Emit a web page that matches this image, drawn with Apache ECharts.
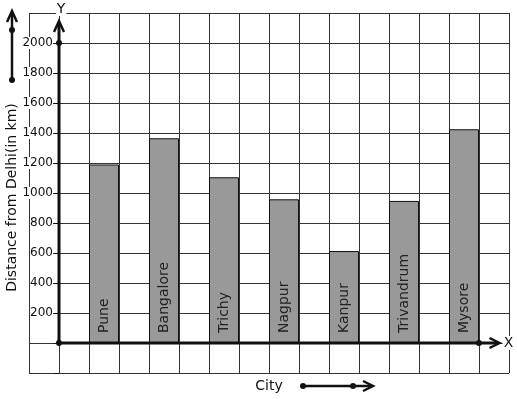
<!DOCTYPE html>
<html>
<head>
<meta charset="utf-8">
<script src="https://cdn.jsdelivr.net/npm/echarts@6.0.0/dist/echarts.min.js"></script>
<style>
  html, body { margin: 0; padding: 0; background: #fff; }
  #main { width: 517px; height: 399px; }
</style>
</head>
<body>
<div id="main"></div>
<script>
const cities = ['Pune', 'Bangalore', 'Trichy', 'Nagpur', 'Kanpur', 'Trivandrum', 'Mysore'];
const distances = [1190, 1365, 1105, 958, 613, 947, 1425];
const yTickLabels = [200, 400, 600, 800, 1000, 1200, 1400, 1600, 1800, 2000];

const FONT = 'DejaVu Sans';
const INK = '#111';
const GRID_LINE = '#333';

const chart = echarts.init(document.getElementById('main'));

// each city sits in every other grid column, starting one column right of the Y axis
const barData = cities.map((name, i) => ({ name, value: [2 * i + 1.5, distances[i]] }));

const option = {
  animation: false,
  grid: { left: 29, top: 13, width: 480, height: 360, outerBoundsMode: 'none' },
  xAxis: {
    type: 'value',
    min: -1,
    max: 15,
    interval: 1,
    axisLine: { show: false, onZero: false },
    axisTick: { show: false },
    axisLabel: { show: false },
    splitLine: { lineStyle: { color: GRID_LINE, width: 1 } },
    name: 'City',
    nameLocation: 'middle',
    nameGap: 6,
    nameMoveOverlap: false,
    nameTextStyle: { fontFamily: FONT, fontSize: 14, color: INK },
  },
  yAxis: [
    {
      type: 'value',
      min: -200,
      max: 2200,
      interval: 200,
      axisLine: { show: false, onZero: false },
      axisTick: { show: false },
      axisLabel: { show: false },
      splitLine: { lineStyle: { color: GRID_LINE, width: 1 } },
    },
    {
      // labelled axis, shifted one grid column right onto x = 0
      type: 'value',
      position: 'left',
      offset: -30,
      min: -200,
      max: 2200,
      interval: 200,
      z: 5,
      axisLine: { show: false, onZero: false },
      axisTick: { show: true, length: 5, lineStyle: { color: INK } },
      axisLabel: {
        margin: 6,
        fontFamily: FONT,
        fontSize: 12,
        color: INK,
        backgroundColor: '#fff',
        formatter: (value) => (yTickLabels.indexOf(value) >= 0 ? String(value) : ''),
      },
      splitLine: { show: false },
      name: 'Distance from Delhi(in km)',
      nameLocation: 'middle',
      nameGap: 40,
      nameMoveOverlap: false,
      nameTextStyle: { fontFamily: FONT, fontSize: 14, color: INK, padding: [0, 9, 0, 0] },
    },
  ],
  series: [
    {
      type: 'bar',
      yAxisIndex: 0,
      barWidth: 30,
      data: barData,
      itemStyle: { color: '#999999', borderColor: INK, borderWidth: 1 },
      label: {
        show: true,
        position: 'insideBottom',
        rotate: 90,
        align: 'left',
        verticalAlign: 'middle',
        distance: 10,
        formatter: '{b}',
        fontFamily: FONT,
        fontSize: 14,
        color: '#222',
      },
    },
  ],
};
chart.setOption(option);

// axes, arrows and dots drawn on top, placed through the chart's own scales
const px = (x, y) => chart.convertToPixel({ gridIndex: 0 }, [x, y]);
const origin = px(0, 0);
const yTip = px(0, 2140);
const xTip = px(14.65, 0);
const yDot = px(0, 2000);
const xDot = px(14, 0);

function line(a, b, w) {
  return { type: 'line', z: 20, shape: { x1: a[0], y1: a[1], x2: b[0], y2: b[1] }, style: { stroke: INK, lineWidth: w } };
}
function dot(p) {
  return { type: 'circle', z: 21, shape: { cx: p[0], cy: p[1], r: 3 }, style: { fill: INK } };
}
function chevron(tip, dir) {
  const [x, y] = tip;
  const pts = dir === 'up'
    ? [[x - 5, y + 11], [x, y], [x + 5, y + 11]]
    : [[x - 10, y - 5], [x, y], [x - 10, y + 5]];
  return { type: 'polyline', z: 21, shape: { points: pts }, style: { stroke: INK, lineWidth: 2.5, fill: null } };
}
function label(text, p) {
  return {
    type: 'text', z: 22, x: p[0], y: p[1],
    style: {
      text, fill: INK, font: '14px "DejaVu Sans"', align: 'center', verticalAlign: 'middle',
      backgroundColor: '#fff', padding: [0, 1],
    },
  };
}

chart.setOption({
  graphic: [
    line(origin, yTip, 3),
    line(origin, xTip, 3),
    chevron([yTip[0], yTip[1] - 1], 'up'),
    chevron([xTip[0] + 1, xTip[1]], 'right'),
    dot(origin),
    dot(yDot),
    dot(xDot),
    label('Y', [yTip[0] + 2, 9]),
    label('X', [xTip[0] + 10, xTip[1]]),
    // free-standing direction arrows beside the axis titles
    line([12, 80], [12, 12], 2.5),
    chevron([12, 11], 'up'),
    dot([12, 30]),
    dot([12, 80]),
    line([303, 386], [372, 386], 2.5),
    chevron([373, 386], 'right'),
    dot([303, 386]),
    dot([353, 386]),
  ],
});
</script>
</body>
</html>
